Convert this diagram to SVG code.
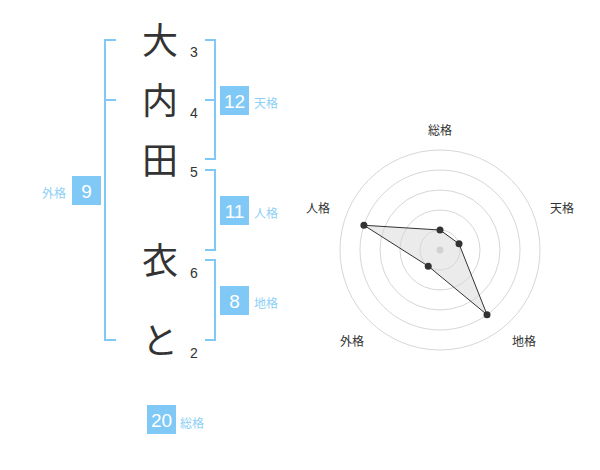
<svg xmlns="http://www.w3.org/2000/svg" width="600" height="470" viewBox="0 0 600 470">
<style>
.kanji{font-family:"Noto Sans CJK JP","Noto Sans",sans-serif;font-size:36px;fill:#333;text-anchor:middle}
.strokes{font-family:"Liberation Sans","Noto Sans",sans-serif;font-size:14px;fill:#333}
.box{fill:#80c9f6}
.num{font-family:"Liberation Sans","Noto Sans",sans-serif;font-size:19px;fill:#fff;text-anchor:middle}
.lbl{font-family:"Noto Sans CJK JP","Noto Sans",sans-serif;font-size:12px;fill:#8dcff6}
.br{fill:none;stroke:#80c9f6;stroke-width:2}
.ring{fill:none;stroke:#cccccc;stroke-width:0.8}
.axis{font-family:"Noto Sans CJK JP","Noto Sans",sans-serif;font-size:12px;fill:#333;text-anchor:middle}
.pt{fill:#333}
</style>
<rect width="600" height="470" fill="#fff"/>
<g id="name-chars">
<g id="char-1"><text class="kanji" x="160" y="54">大</text><text class="strokes" x="190" y="57">3</text></g>
<g id="char-2"><text class="kanji" x="160" y="114">内</text><text class="strokes" x="190" y="118">4</text></g>
<g id="char-3"><text class="kanji" x="160" y="174">田</text><text class="strokes" x="190" y="177">5</text></g>
<g id="char-4"><text class="kanji" x="160" y="274">衣</text><text class="strokes" x="190" y="278">6</text></g>
<g id="char-5"><text class="kanji" x="160" y="354">と</text><text class="strokes" x="190" y="358">2</text></g>
</g>
<g id="connectors">
<path class="br" d="M116,40 H105 V340 H116 M105,100 H116"/>
<path class="br" d="M205,40 H215 V159 H205 M205,100 H215"/>
<path class="br" d="M205,170 H215 V250 H205"/>
<path class="br" d="M205,260 H215 V340 H205"/>
</g>
<g id="tenkaku"><rect class="box" x="220" y="86" width="29" height="29"/><text class="num" x="234.5" y="108">12</text><text class="lbl" x="254" y="108">天格</text></g>
<g id="jinkaku"><rect class="box" x="220" y="196" width="29" height="29"/><text class="num" x="234.5" y="218">11</text><text class="lbl" x="254" y="218">人格</text></g>
<g id="chikaku"><rect class="box" x="220" y="286" width="29" height="29"/><text class="num" x="234.5" y="308">8</text><text class="lbl" x="254" y="308">地格</text></g>
<g id="gaikaku"><rect class="box" x="72" y="176" width="29" height="29"/><text class="num" x="86.5" y="198">9</text><text class="lbl" x="66" y="198" text-anchor="end">外格</text></g>
<g id="soukaku"><rect class="box" x="147" y="405" width="29" height="29"/><text class="num" x="161.5" y="427">20</text><text class="lbl" x="180" y="428">総格</text></g>
<g id="radar">
<circle class="ring" cx="440" cy="250" r="20"/>
<circle class="ring" cx="440" cy="250" r="40"/>
<circle class="ring" cx="440" cy="250" r="60"/>
<circle class="ring" cx="440" cy="250" r="80"/>
<circle class="ring" cx="440" cy="250" r="100"/>
<circle cx="440" cy="250" r="3.5" fill="#cccccc"/>
<polygon points="440,230 459.02,243.82 487.02,314.72 428.24,266.18 363.92,225.28" fill="#d8d8d8" fill-opacity="0.5" stroke="#333" stroke-width="1"/>
<circle class="pt" cx="440" cy="230" r="3.5"/>
<circle class="pt" cx="459.02" cy="243.82" r="3.5"/>
<circle class="pt" cx="487.02" cy="314.72" r="3.5"/>
<circle class="pt" cx="428.24" cy="266.18" r="3.5"/>
<circle class="pt" cx="363.92" cy="225.28" r="3.5"/>
<text class="axis" x="440" y="134.5">総格</text>
<text class="axis" x="562" y="213">天格</text>
<text class="axis" x="524" y="346">地格</text>
<text class="axis" x="352" y="346">外格</text>
<text class="axis" x="318" y="213">人格</text>
</g>
</svg>
